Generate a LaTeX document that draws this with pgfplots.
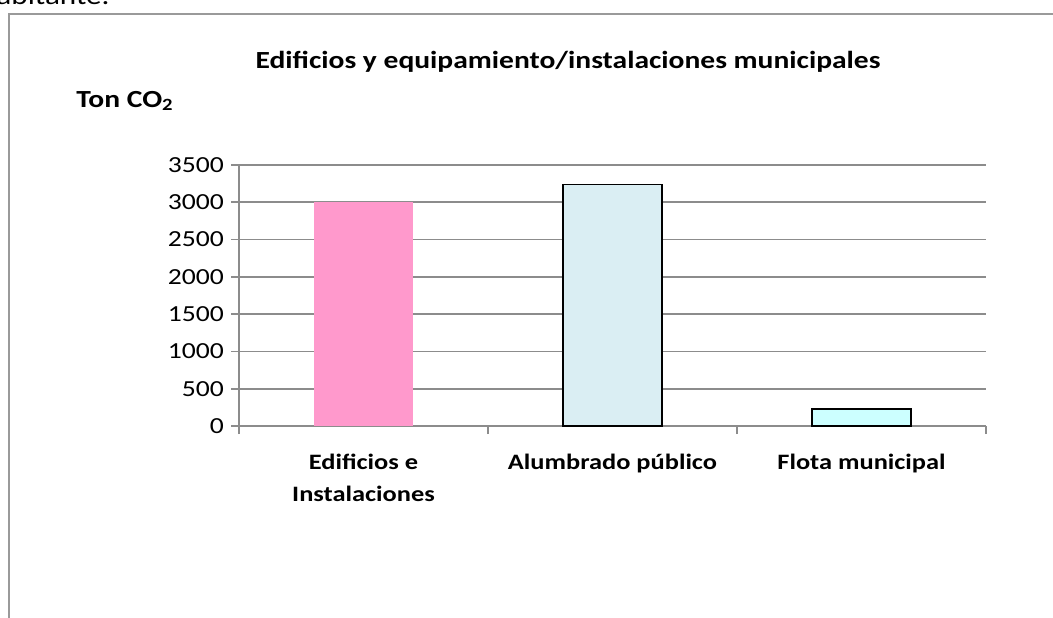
\documentclass[border=0pt]{standalone}
\usepackage{pgfplots}
\pgfplotsset{compat=1.18}
\usepackage{fontspec}
\setmainfont{Carlito}[FakeStretch=1.2]

\definecolor{gridgray}{HTML}{8C8C8C}
\definecolor{framegray}{HTML}{9A9A9A}
\definecolor{barpink}{HTML}{FF99CC}
\definecolor{barblue}{HTML}{DAEEF3}
\definecolor{barcyan}{HTML}{CCFFFF}

\begin{document}
\begin{tikzpicture}[x=1pt,y=1pt]
% page = 1053 x 617 px at 0.5pt per px
\path[use as bounding box, clip] (0,0) rectangle (526.5,308.5);
\node[anchor=base east, font=\fontsize{13}{15}\selectfont, inner sep=0] at (55,306) {habitante.};
\draw[framegray, line width=1pt] (4.25,-20) -- (4.25,301.5) -- (560,301.5);
\node[font=\bfseries\fontsize{12.3}{14}\selectfont] at (284,277.5)
  {Edificios y equipamiento/instalaciones municipales};
\node[anchor=west, font=\bfseries\fontsize{12.3}{14}\selectfont, inner sep=0] at (38,258)
  {Ton CO\textsubscript{2}};

\begin{axis}[
    at={(119.5pt,95.5pt)}, anchor=south west,
    scale only axis, width=373.5pt, height=130.5pt,
    xmin=-0.5, xmax=2.5,
    ymin=0, ymax=3500,
    ytick={0,500,...,3500},
    xtick={0,1,2},
    xticklabels={{Edificios e\\Instalaciones},{Alumbrado público},{Flota municipal}},
    minor xtick={-0.5,0.5,1.5,2.5},
    axis lines=left,
    axis line style={gridgray, line width=0.9pt, -},
    ymajorgrids=true,
    grid style={gridgray, line width=0.9pt},
    tick align=outside,
    major tick length=4pt,
    minor tick length=4pt,
    tick style={gridgray, line width=0.9pt},
    major x tick style={draw=none},
    xticklabel style={font=\bfseries\fontsize{11}{16}\selectfont, align=center, yshift=-6.5pt},
    yticklabel style={font=\fontsize{11.5}{13}\selectfont},
    /pgf/number format/assume math mode=true,
    /pgf/number format/set thousands separator={},
]
\addplot[ybar, bar width=49.5pt, bar shift=0pt, fill=barpink, draw=none]
    coordinates {(0,3000)};
\addplot[ybar, bar width=49.5pt, bar shift=0pt, fill=barblue, draw=black, line width=0.8pt]
    coordinates {(1,3240)};
\addplot[ybar, bar width=49.5pt, bar shift=0pt, fill=barcyan, draw=black, line width=0.8pt]
    coordinates {(2,230)};
\end{axis}
\end{tikzpicture}
\end{document}
